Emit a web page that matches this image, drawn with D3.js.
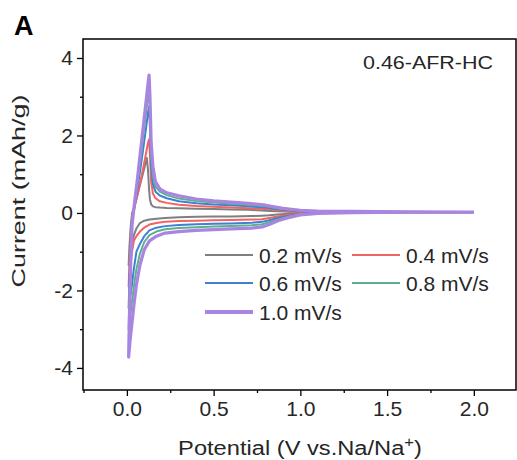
<!DOCTYPE html>
<html>
<head>
<meta charset="utf-8">
<script src="https://cdn.jsdelivr.net/npm/d3@7"></script>
<style>
  body { margin: 0; background: #fff; }
  svg { display: block; font-family: "Liberation Sans", Arial, sans-serif; }
  .axis text { fill: #262626; font-size: 21px; }
  .axis line { stroke: #000; stroke-width: 1.3px; }
  .axis path { display: none; }
</style>
</head>
<body>
<div id="chart"></div>
<script>
// scan rates (legend order)
const scanRates = ['0.2 mV/s', '0.4 mV/s', '0.6 mV/s', '0.8 mV/s', '1.0 mV/s'];

// cathodic sweep, 2.0 V -> 0.01 V
const cathodicV = [2.0, 1.6, 1.3, 1.1, 1.0, 0.93, 0.87, 0.82, 0.78, 0.72, 0.6, 0.5, 0.4, 0.3, 0.22, 0.17, 0.13, 0.1, 0.075, 0.055, 0.04, 0.028, 0.018, 0.01];
const cathodic02 = [0.02, 0.02, 0.015, 0.01, 0.0, -0.02, -0.04, -0.06, -0.07, -0.08, -0.09, -0.09, -0.1, -0.11, -0.13, -0.15, -0.17, -0.2, -0.26, -0.4, -0.58, -0.8, -1.05, -1.35];
const cathodic04 = [0.02, 0.02, 0.015, 0.005, -0.02, -0.05, -0.09, -0.13, -0.16, -0.17, -0.18, -0.19, -0.2, -0.21, -0.23, -0.26, -0.3, -0.38, -0.48, -0.6, -0.72, -1.05, -1.45, -1.9];
const cathodic06 = [0.02, 0.02, 0.01, 0.0, -0.03, -0.08, -0.13, -0.19, -0.23, -0.25, -0.27, -0.28, -0.29, -0.31, -0.34, -0.38, -0.45, -0.6, -0.8, -1.0, -1.45, -1.9, -2.2, -2.45];
const cathodic08 = [0.02, 0.02, 0.01, -0.005, -0.04, -0.1, -0.17, -0.24, -0.29, -0.32, -0.34, -0.35, -0.37, -0.39, -0.42, -0.48, -0.57, -0.75, -1.05, -1.45, -1.9, -2.35, -2.7, -3.0];
const cathodic10 = [0.02, 0.02, 0.01, -0.01, -0.05, -0.12, -0.2, -0.3, -0.36, -0.39, -0.41, -0.43, -0.45, -0.48, -0.52, -0.6, -0.72, -0.95, -1.35, -1.85, -2.4, -2.9, -3.3, -3.72];

// anodic sweep, 0.01 V -> 2.0 V
const anodicV = [0.01, 0.015, 0.022, 0.03, 0.045, 0.06, 0.08, 0.1, 0.115, 0.122, 0.128, 0.133, 0.14, 0.15, 0.165, 0.19, 0.23, 0.3, 0.4, 0.5, 0.6, 0.7, 0.8, 0.9, 1.0, 1.1, 1.3, 1.6, 2.0];
const anodic02 = [-1.35, -0.85, -0.35, 0.0, 0.2, 0.45, 0.8, 1.15, 1.42, 1.1, 0.6, 0.35, 0.22, 0.17, 0.15, 0.14, 0.13, 0.12, 0.11, 0.1, 0.09, 0.08, 0.06, 0.04, 0.03, 0.025, 0.02, 0.02, 0.02];
const anodic04 = [-1.9, -1.25, -0.6, -0.12, 0.15, 0.45, 0.85, 1.3, 1.65, 1.82, 1.9, 1.5, 0.8, 0.5, 0.38, 0.3, 0.26, 0.21, 0.18, 0.16, 0.14, 0.12, 0.1, 0.06, 0.04, 0.03, 0.025, 0.02, 0.02];
const anodic06 = [-2.45, -1.7, -0.8, -0.2, 0.2, 0.6, 1.2, 1.85, 2.35, 2.6, 2.75, 2.2, 1.2, 0.75, 0.55, 0.45, 0.38, 0.3, 0.25, 0.22, 0.2, 0.17, 0.14, 0.08, 0.05, 0.04, 0.03, 0.025, 0.02];
const anodic08 = [-3.0, -2.1, -1.0, -0.25, 0.25, 0.75, 1.45, 2.2, 2.75, 3.0, 3.2, 2.6, 1.5, 0.95, 0.68, 0.55, 0.46, 0.37, 0.31, 0.27, 0.24, 0.21, 0.17, 0.1, 0.06, 0.045, 0.035, 0.03, 0.02];
const anodic10 = [-3.72, -2.6, -1.3, -0.3, 0.3, 0.85, 1.65, 2.45, 3.05, 3.35, 3.56, 3.0, 1.8, 1.2, 0.8, 0.62, 0.52, 0.44, 0.36, 0.31, 0.28, 0.25, 0.2, 0.12, 0.07, 0.05, 0.04, 0.03, 0.02];

const xTicks = [0, 0.5, 1.0, 1.5, 2.0];
const xMinor = [-0.25, 0.25, 0.75, 1.25, 1.75];
const yTicks = [-4, -2, 0, 2, 4];
const yMinor = [-3, -1, 1, 3];

const cathodic = [cathodic02, cathodic04, cathodic06, cathodic08, cathodic10];
const anodic = [anodic02, anodic04, anodic06, anodic08, anodic10];
const colors = ['#7f7f7f', '#f06463', '#3f80d2', '#5cb08b', '#a985e2'];
const widths = [2, 2, 2, 2, 3.2];

const W = 517, H = 460;
const margin = { left: 83, right: 1, top: 39, bottom: 70 };

const svg = d3.select('#chart').append('svg')
  .attr('width', W).attr('height', H);

const x = d3.scaleLinear().domain([-0.253, 2.243]).range([margin.left, W - margin.right]);
const y = d3.scaleLinear().domain([-4.57, 4.49]).range([H - margin.bottom, margin.top]);

// horizontal stretch factor to bring a text element to a given width
function fitText(sel, width) {
  const natural = sel.node().getComputedTextLength();
  return width / natural;
}

// curves
const line = d3.line().x(d => x(d[0])).y(d => y(d[1]));
const series = scanRates.map((name, i) => {
  const pts = cathodicV.map((v, j) => [v, cathodic[i][j]])
    .concat(anodicV.map((v, j) => [v, anodic[i][j]]));
  return { name: name, pts: pts, color: colors[i], width: widths[i] };
});

svg.append('g').attr('class', 'curves')
  .selectAll('path')
  .data(series)
  .enter().append('path')
    .attr('d', d => line(d.pts))
    .attr('fill', 'none')
    .attr('stroke', d => d.color)
    .attr('stroke-width', d => d.width)
    .attr('stroke-linejoin', 'round');

// axes (plain hyphen for negatives, like the original)
const bottom = H - margin.bottom;
svg.append('g').attr('class', 'axis')
  .attr('transform', `translate(0,${bottom})`)
  .call(d3.axisBottom(x).tickValues(xTicks).tickSize(6).tickPadding(5).tickFormat(d => d.toFixed(1)));
svg.append('g').attr('class', 'axis')
  .attr('transform', `translate(0,${bottom})`)
  .call(d3.axisBottom(x).tickValues(xMinor).tickSize(3).tickFormat(''));
svg.append('g').attr('class', 'axis')
  .attr('transform', `translate(${margin.left},0)`)
  .call(d3.axisLeft(y).tickValues(yTicks).tickSize(6).tickPadding(4).tickFormat(d => String(d)));
svg.append('g').attr('class', 'axis')
  .attr('transform', `translate(${margin.left},0)`)
  .call(d3.axisLeft(y).tickValues(yMinor).tickSize(3).tickFormat(''));

// frame
svg.append('rect')
  .attr('x', margin.left).attr('y', margin.top)
  .attr('width', W - margin.right - margin.left)
  .attr('height', bottom - margin.top)
  .attr('fill', 'none').attr('stroke', '#000').attr('stroke-width', 1.5);

// legend
const legend = svg.append('g').attr('class', 'legend');
const legX = [205, 352], legY = [255, 283, 312];
series.forEach((s, i) => {
  const lx = legX[i % 2], ly = legY[Math.floor(i / 2)];
  legend.append('line')
    .attr('x1', lx).attr('x2', lx + 48).attr('y1', ly).attr('y2', ly)
    .attr('stroke', s.color).attr('stroke-width', i === 4 ? 4 : 2);
  legend.append('text')
    .attr('x', lx + 54).attr('y', ly).attr('dy', '0.36em')
    .attr('font-size', 21).attr('fill', '#262626')
    .text(s.name);
});

// sample label
const sample = svg.append('text')
  .attr('font-size', 18).attr('fill', '#262626')
  .text('0.46-AFR-HC');
sample.attr('transform', `translate(363,69) scale(${fitText(sample, 130)},1)`);

// panel letter
svg.append('text')
  .attr('x', 14).attr('y', 35)
  .attr('font-size', 27).attr('font-weight', 'bold').attr('fill', '#000')
  .text('A');

// y title
const yTitle = svg.append('text')
  .attr('font-size', 19).attr('fill', '#262626')
  .attr('text-anchor', 'middle')
  .text('Current (mAh/g)');
yTitle.attr('transform', `translate(25,191) rotate(-90) scale(${fitText(yTitle, 193)},1)`);

// x title
const xTitle = svg.append('text')
  .attr('font-size', 20).attr('fill', '#262626')
  .attr('text-anchor', 'middle');
xTitle.append('tspan').text('Potential (V vs.Na/Na');
xTitle.append('tspan').attr('font-size', 14).attr('dy', -8).text('+');
xTitle.append('tspan').attr('dy', 8).text(')');
xTitle.attr('transform', `translate(300,455) scale(${fitText(xTitle, 244)},1)`);
</script>
</body>
</html>
